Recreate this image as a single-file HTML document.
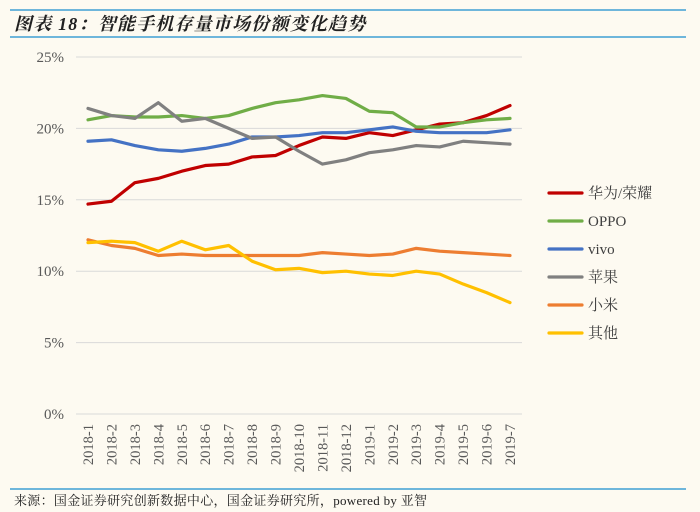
<!DOCTYPE html>
<html><head><meta charset="utf-8"><style>
body{margin:0;background:#fdfaf1;}
svg{display:block;font-family:"Liberation Serif","Noto Serif CJK SC",serif;}
</style></head><body>
<svg id="c" width="700" height="512">
<rect width="700" height="512" fill="#fdfaf1"/>
<line x1="10" y1="10" x2="686" y2="10" stroke="#3f9fd4" stroke-width="1.5"/>
<text x="14" y="30" font-size="18" letter-spacing="1.2" font-style="italic" font-weight="bold" fill="#222">图表 18：智能手机存量市场份额变化趋势</text>
<line x1="10" y1="37" x2="686" y2="37" stroke="#3f9fd4" stroke-width="1.5"/>
<line x1="10" y1="489" x2="686" y2="489" stroke="#3f9fd4" stroke-width="1.5"/>
<text x="14" y="505" font-size="13" letter-spacing="0.3" fill="#222">来源：国金证券研究创新数据中心，国金证券研究所，powered by 亚智</text>
<g id="grid"></g><g id="xl"></g><g id="lines"></g><g id="legend"></g>
</svg>
<script>
const categories=["2018-1","2018-2","2018-3","2018-4","2018-5","2018-6","2018-7","2018-8","2018-9","2018-10","2018-11","2018-12","2019-1","2019-2","2019-3","2019-4","2019-5","2019-6","2019-7"];
const seriesNames=["华为/荣耀","OPPO","vivo","苹果","小米","其他"];
const seriesColors=["#c00000","#70ad47","#4472c4","#808080","#ed7d31","#ffc000"];
const huawei=[14.7,14.9,16.2,16.5,17.0,17.4,17.5,18.0,18.1,18.8,19.4,19.3,19.7,19.5,19.9,20.3,20.4,20.9,21.6];
const oppo=[20.6,20.9,20.8,20.8,20.9,20.7,20.9,21.4,21.8,22.0,22.3,22.1,21.2,21.1,20.1,20.1,20.4,20.6,20.7];
const vivo=[19.1,19.2,18.8,18.5,18.4,18.6,18.9,19.4,19.4,19.5,19.7,19.7,19.9,20.1,19.8,19.7,19.7,19.7,19.9];
const apple=[21.4,20.9,20.7,21.8,20.5,20.7,20.0,19.3,19.4,18.4,17.5,17.8,18.3,18.5,18.8,18.7,19.1,19.0,18.9];
const xiaomi=[12.2,11.8,11.6,11.1,11.2,11.1,11.1,11.1,11.1,11.1,11.3,11.2,11.1,11.2,11.6,11.4,11.3,11.2,11.1];
const others=[12.0,12.1,12.0,11.4,12.1,11.5,11.8,10.7,10.1,10.2,9.9,10.0,9.8,9.7,10.0,9.8,9.1,8.5,7.8];
const yTicks=[0,5,10,15,20,25];
const yTickLabels=["0%","5%","10%","15%","20%","25%"];
const series=[huawei,oppo,vivo,apple,xiaomi,others];
const NS="http://www.w3.org/2000/svg";
const y0=414,y1=57,vmax=25,x0=88,x1=510;
const y=v=>y0-(v/vmax)*(y0-y1);
const x=i=>x0+i*(x1-x0)/(categories.length-1);
function mk(t,a,p){const e=document.createElementNS(NS,t);for(const k in a)e.setAttribute(k,a[k]);p.appendChild(e);return e;}
const grid=document.getElementById('grid');
yTicks.forEach((t,i)=>{
  const l=mk('line',{x1:76,x2:522,y1:y(t),y2:y(t),stroke:'#d9d9d9','stroke-width':1},grid);
  
  
  const tx=mk('text',{x:64,y:y(t)+5,'font-size':15,fill:'#595959','text-anchor':'end'},grid);
  tx.textContent=yTickLabels[i];
  
  
});
const xl=document.getElementById('xl');
categories.forEach((c,i)=>{
  const t=mk('text',{transform:`translate(${x(i)+5},424) rotate(-90)`,'font-size':14.5,fill:'#595959','text-anchor':'end'},xl);
  t.textContent=c;
  
  
});
const lines=document.getElementById('lines');
series.forEach((s,k)=>{
  const p=mk('polyline',{points:s.map((v,i)=>x(i)+','+y(v)).join(' '),fill:'none',stroke:seriesColors[k],'stroke-width':3.2,'stroke-linejoin':'round','stroke-linecap':'round'},lines);
  
  
});
const lg=document.getElementById('legend');
seriesNames.forEach((n,k)=>{
  const yy=193+k*28;
  const l=mk('line',{x1:549,x2:582,y1:yy,y2:yy,stroke:seriesColors[k],'stroke-width':3.2,'stroke-linecap':'round'},lg);
  
  
  const t=mk('text',{x:588,y:yy+5,'font-size':15,fill:'#404040'},lg);
  t.textContent=n;
  
  
});
</script>
</body></html>
